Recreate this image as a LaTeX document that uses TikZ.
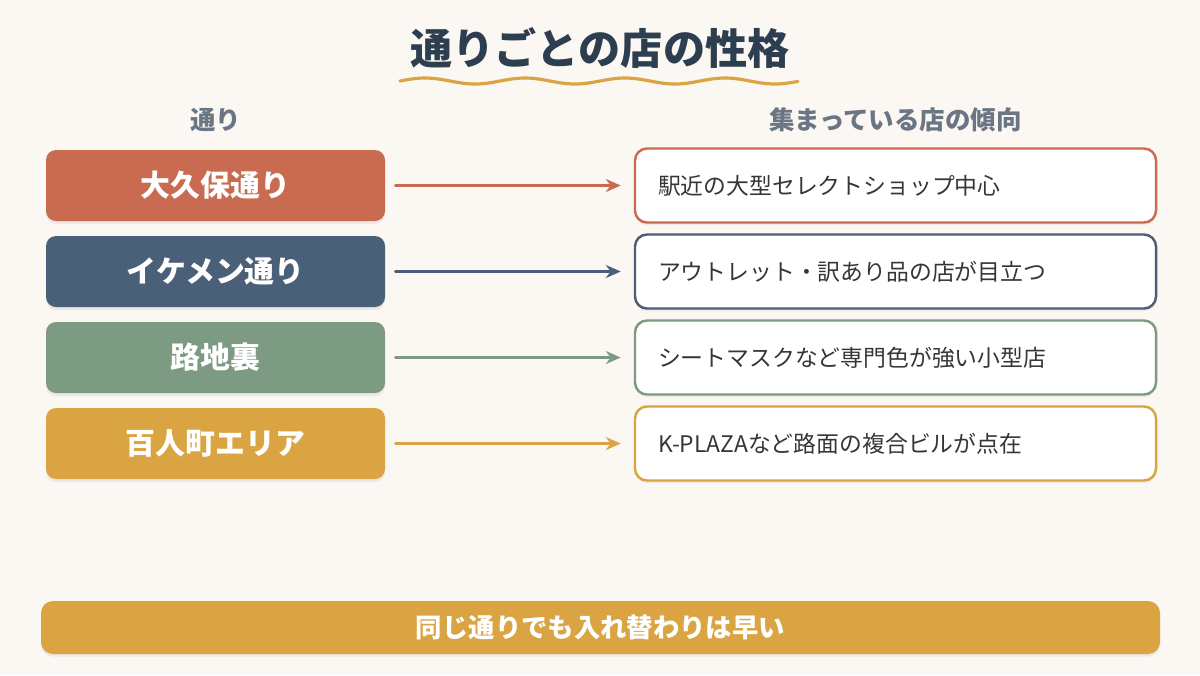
\documentclass[tikz,border=0pt]{standalone}
\usepackage{fontspec}
\setmainfont{Noto Sans CJK JP}
\usepackage{tikz}
\usetikzlibrary{arrows.meta,shadows}
\usepackage{xcolor}
\definecolor{bgcream}{HTML}{FBF7F3}
\definecolor{titlenavy}{HTML}{2C3E50}
\definecolor{headgray}{HTML}{6B7685}
\definecolor{okubored}{HTML}{C96B50}
\definecolor{ikemenblue}{HTML}{4A5F78}
\definecolor{rojigreen}{HTML}{7C9B82}
\definecolor{hyakugold}{HTML}{D9A441}
\definecolor{bodytext}{HTML}{363636}

\begin{document}
\begin{tikzpicture}[>={Stealth[length=3mm,width=2.6mm]},line cap=round,
  street/.style={rounded corners=0.2cm,minimum width=6.78cm,minimum height=1.42cm,
    text=white,font=\fontsize{17}{19}\selectfont\bfseries,
    drop shadow={opacity=0.12,shadow xshift=0cm,shadow yshift=-0.06cm}},
  trend/.style={draw,line width=1.4pt,fill=white,rounded corners=0.24cm,
    minimum height=1.48cm,text width=9.5cm,inner xsep=0.46cm,align=left,
    text=bodytext,font=\fontsize{13}{15}\selectfont,
    drop shadow={opacity=0.10,shadow xshift=0cm,shadow yshift=-0.05cm}},
  link/.style={->,line width=1.3pt,shorten <=0.2cm,shorten >=0.26cm}]
\fill[bgcream] (0,0) rectangle (24,-13.5);
\useasboundingbox (0,0) rectangle (24,-13.5);
% title
\node[text=titlenavy,font=\fontsize{24}{27}\selectfont\bfseries] (title) at (12,-0.96) {通りごとの店の性格};
\draw[hyakugold,line width=1.8pt] plot[domain=8:15.96,samples=120] (\x,{-1.62+0.06*sin((\x-8)*180)});
% headers
\node[text=headgray,font=\fontsize{14.5}{16}\selectfont\bfseries] (headstreet) at (4.31,-2.4) {通り};
\node[text=headgray,font=\fontsize{14.5}{16}\selectfont\bfseries] (headtrend) at (17.91,-2.4) {集まっている店の傾向};
% streets
\node[street,fill=okubored] (okubo) at (4.31,-3.71) {大久保通り};
\node[street,fill=ikemenblue] (ikemen) at (4.31,-5.43) {イケメン通り};
\node[street,fill=rojigreen] (roji) at (4.31,-7.15) {路地裏};
\node[street,fill=hyakugold] (hyaku) at (4.31,-8.87) {百人町エリア};
% trends
\node[trend,draw=okubored] (okubotrend) at (17.91,-3.71) {駅近の大型セレクトショップ中心};
\node[trend,draw=ikemenblue] (ikementrend) at (17.91,-5.43) {アウトレット・訳あり品の店が目立つ};
\node[trend,draw=rojigreen] (rojitrend) at (17.91,-7.15) {シートマスクなど専門色が強い小型店};
\node[trend,draw=hyakugold] (hyakutrend) at (17.91,-8.87) {K-PLAZAなど路面の複合ビルが点在};
% links
\draw[link,okubored] (okubo) -- (okubotrend);
\draw[link,ikemenblue] (ikemen) -- (ikementrend);
\draw[link,rojigreen] (roji) -- (rojitrend);
\draw[link,hyakugold] (hyaku) -- (hyakutrend);
% note
\node[fill=hyakugold,rounded corners=0.24cm,minimum width=22.38cm,minimum height=1.06cm,
  text=white,font=\fontsize{15}{17}\selectfont\bfseries,
  drop shadow={opacity=0.12,shadow xshift=0cm,shadow yshift=-0.05cm}] (note) at (12.01,-12.55) {同じ通りでも入れ替わりは早い};
\end{tikzpicture}
\end{document}
